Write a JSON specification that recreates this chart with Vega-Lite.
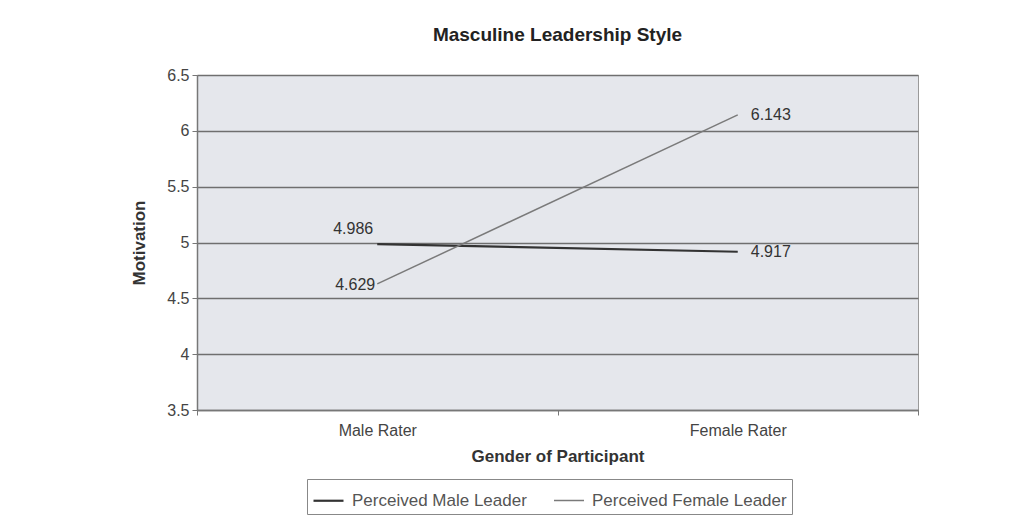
{
  "$schema": "https://vega.github.io/schema/vega-lite/v6.json",
  "width": 721,
  "height": 335,
  "autosize": {"type": "none"},
  "padding": {"left": 197, "top": 75, "right": 100, "bottom": 112},
  "background": "white",
  "config": {
    "font": "Liberation Sans",
    "view": {"fill": "#e5e7ec", "stroke": "#9a9a9a", "strokeWidth": 1}
  },
  "title": {
    "text": "Masculine Leadership Style",
    "fontSize": 19,
    "fontWeight": "bold",
    "color": "#222222",
    "anchor": "middle",
    "offset": 22
  },
  "data": {
    "values": [
      {"rater": "Male Rater", "series": "Perceived Male Leader", "value": 4.986},
      {"rater": "Female Rater", "series": "Perceived Male Leader", "value": 4.917},
      {"rater": "Male Rater", "series": "Perceived Female Leader", "value": 4.629},
      {"rater": "Female Rater", "series": "Perceived Female Leader", "value": 6.143}
    ]
  },
  "encoding": {
    "x": {
      "field": "rater",
      "type": "nominal",
      "sort": ["Male Rater", "Female Rater"],
      "scale": {"paddingInner": 0, "paddingOuter": 0},
      "axis": {
        "title": "Gender of Participant",
        "titleFontSize": 17,
        "titleFontWeight": "bold",
        "titleColor": "#333333",
        "titlePadding": 10,
        "labelAngle": 0,
        "labelFontSize": 16,
        "labelColor": "#444444",
        "labelPadding": 7,
        "tickBand": "extent",
        "tickColor": "#777777",
        "tickSize": 5,
        "domainColor": "#777777",
        "domainWidth": 1.5,
        "grid": false
      }
    },
    "y": {
      "field": "value",
      "type": "quantitative",
      "scale": {"domain": [3.5, 6.5], "nice": false, "zero": false},
      "axis": {
        "title": "Motivation",
        "titleFontSize": 17,
        "titleFontWeight": "bold",
        "titleColor": "#333333",
        "titlePadding": 18,
        "values": [3.5, 4, 4.5, 5, 5.5, 6, 6.5],
        "format": "~g",
        "labelFontSize": 16,
        "labelColor": "#444444",
        "labelPadding": 3,
        "tickColor": "#777777",
        "tickSize": 5,
        "domainColor": "#777777",
        "domainWidth": 1.5,
        "gridColor": "#6f6f6f",
        "gridWidth": 1.5,
        "gridOpacity": 1
      }
    }
  },
  "layer": [
    {
      "mark": {"type": "line"},
      "encoding": {
        "color": {
          "field": "series",
          "type": "nominal",
          "sort": ["Perceived Male Leader", "Perceived Female Leader"],
          "scale": {"domain": ["Perceived Male Leader", "Perceived Female Leader"], "range": ["#333333", "#7a7a7a"]},
          "legend": {
            "title": null,
            "orient": "none",
            "legendX": 110,
            "legendY": 404,
            "direction": "horizontal",
            "symbolType": "stroke",
            "symbolSize": 900,
            "symbolStrokeWidth": 2,
            "labelFontSize": 17,
            "labelLimit": 0,
            "labelColor": "#555555",
            "labelOffset": 7,
            "columnPadding": 24,
            "strokeColor": "#888888",
            "padding": 5,
            "fillColor": "white"
          }
        },
        "strokeWidth": {
          "field": "series",
          "type": "nominal",
          "scale": {"domain": ["Perceived Male Leader", "Perceived Female Leader"], "range": [2.2, 1.5]},
          "legend": null
        }
      }
    },
    {
      "mark": {"type": "text", "align": "left", "dx": 13, "fontSize": 16, "color": "#333333", "baseline": "middle"},
      "transform": [{"filter": "datum.rater == 'Female Rater'"}],
      "encoding": {"text": {"field": "value", "type": "quantitative", "format": ".3f"}}
    },
    {
      "mark": {"type": "text", "align": "right", "dx": -2, "dy": 1, "fontSize": 16, "color": "#333333", "baseline": "middle"},
      "transform": [{"filter": "datum.rater == 'Male Rater' && datum.series == 'Perceived Female Leader'"}],
      "encoding": {"text": {"field": "value", "type": "quantitative", "format": ".3f"}}
    },
    {
      "mark": {"type": "text", "align": "right", "dx": -4, "dy": -15, "fontSize": 16, "color": "#333333", "baseline": "middle"},
      "transform": [{"filter": "datum.rater == 'Male Rater' && datum.series == 'Perceived Male Leader'"}],
      "encoding": {"text": {"field": "value", "type": "quantitative", "format": ".3f"}}
    }
  ]
}
